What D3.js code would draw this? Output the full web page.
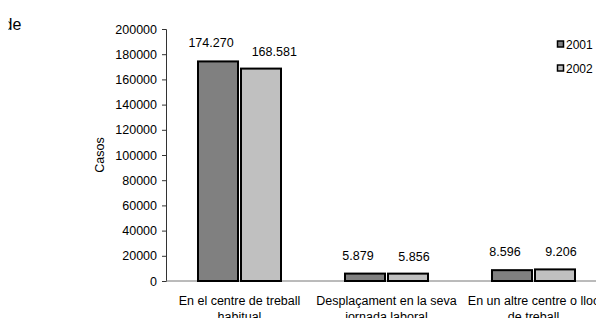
<!DOCTYPE html>
<html><head><meta charset="utf-8">
<script src="https://cdn.jsdelivr.net/npm/d3@7"></script>
<style>body{margin:0;background:#fff;overflow:hidden}svg{display:block}text{font-family:"Liberation Sans",Arial,sans-serif}</style>
</head><body>
<script>
const categories = [["En el centre de treball","habitual"],["Desplaçament en la seva","jornada laboral"],["En un altre centre o lloc","de treball"]];
const series = ["2001","2002"];
const values2001 = [174270, 5879, 8596];
const values2002 = [168581, 5856, 9206];
const labels2001 = ["174.270","5.879","8.596"];
const labels2002 = ["168.581","5.856","9.206"];
const yTicks = [0,20000,40000,60000,80000,100000,120000,140000,160000,180000,200000];
const colors = ["#808080","#c0c0c0"];

const W=596,H=318;
const svg=d3.select("body").append("svg").attr("width",W).attr("height",H);
const x0=166, y0=281, yTop=29;
const x=d3.scaleBand().domain(d3.range(categories.length)).range([x0,x0+3*147]).padding(0);
const y=d3.scaleLinear().domain([0,200000]).range([y0,yTop]);

svg.append("defs").append("clipPath").attr("id","tc").append("rect").attr("x",8.5).attr("y",0).attr("width",40).attr("height",40);
svg.append("text").attr("clip-path","url(#tc)").attr("x",3.5).attr("y",30).attr("font-size",16).text("de");

const yAx=svg.append("g").attr("transform",`translate(${x0},0)`)
 .call(d3.axisLeft(y).tickValues(yTicks).tickSize(4).tickPadding(5).tickFormat(d=>d));
yAx.selectAll("text").attr("font-size",12.5).attr("fill","#000").style("font-family","Liberation Sans, Arial");
yAx.select(".domain").attr("stroke","#333");
yAx.selectAll(".tick line").attr("stroke","#333");

svg.append("line").attr("x1",x0).attr("x2",W).attr("y1",y0).attr("y2",y0).attr("stroke","#777").attr("stroke-width",1);

svg.append("text").attr("transform",`translate(104,155) rotate(-90)`).attr("text-anchor","middle").attr("font-size",12.5).text("Casos");

const bw=40, gap=3;
const data=[values2001,values2002];
const labs=[labels2001,labels2002];
// bars
data.forEach((vals,s)=>{
  vals.forEach((v,i)=>{
    const cx=x(i)+x.bandwidth()/2;
    const bx = s===0 ? cx-gap/2-bw : cx+gap/2;
    svg.append("rect").attr("x",bx).attr("y",y(v)).attr("width",bw).attr("height",y0-y(v))
      .attr("fill",colors[s]).attr("stroke","#000").attr("stroke-width",2);
  });
});
// value labels, nudged outward and kept apart
categories.forEach((c,i)=>{
  const cx=x(i)+x.bandwidth()/2;
  const t1=svg.append("text").attr("x",cx-gap/2-bw/2-7).attr("y",y(values2001[i])-14).attr("text-anchor","middle").attr("font-size",12.5).text(labels2001[i]);
  const b1=t1.node().getBBox();
  const t2=svg.append("text").attr("y",y(values2002[i])-13).attr("text-anchor","middle").attr("font-size",12.5).text(labels2002[i]);
  t2.attr("x",0);
  const w2=t2.node().getBBox().width;
  let c2=cx+gap/2+bw/2+6;
  c2=Math.max(c2, b1.x+b1.width+18+w2/2);
  t2.attr("x",c2);
});

categories.forEach((c,i)=>{
  const cx=x(i)+x.bandwidth()/2;
  c.forEach((line,k)=>{
    svg.append("text").attr("x",cx).attr("y",305+k*16).attr("text-anchor","middle").attr("font-size",12.5).text(line);
  });
});

series.forEach((s,i)=>{
  const ly=44+i*24;
  svg.append("rect").attr("x",557.5).attr("y",ly-3).attr("width",6).attr("height",6).attr("fill",colors[i]).attr("stroke","#000").attr("stroke-width",1.5);
  svg.append("text").attr("x",566).attr("y",ly+4.5).attr("font-size",12).text(s);
});
</script>
</body></html>
